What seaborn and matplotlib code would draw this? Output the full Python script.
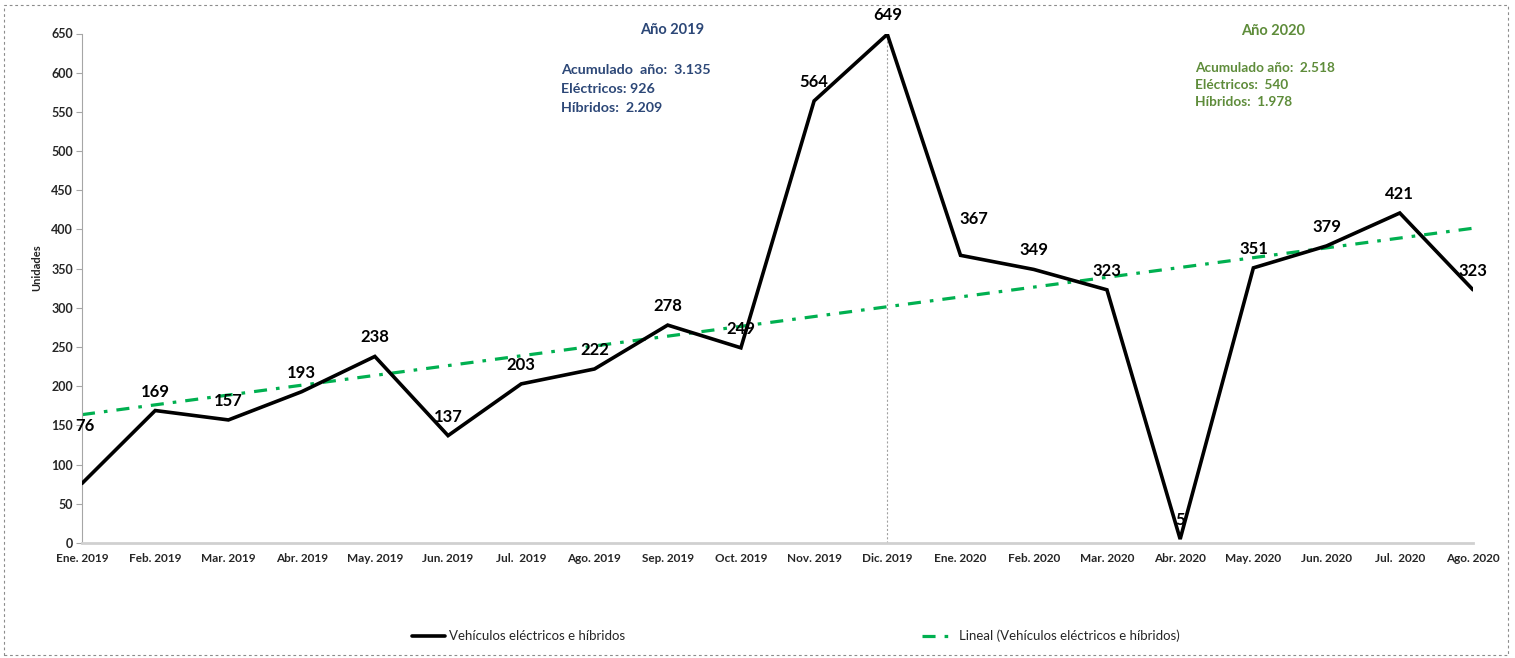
import numpy as np
import pandas as pd
import matplotlib
matplotlib.use("Agg")
import matplotlib.pyplot as plt
import seaborn as sns
from matplotlib.patches import Rectangle

# ---------------- data ----------------
months = ["Ene. 2019", "Feb. 2019", "Mar. 2019", "Abr. 2019", "May. 2019", "Jun. 2019",
          "Jul.  2019", "Ago. 2019", "Sep. 2019", "Oct. 2019", "Nov. 2019", "Dic. 2019",
          "Ene. 2020", "Feb. 2020", "Mar. 2020", "Abr. 2020", "May. 2020", "Jun. 2020",
          "Jul.  2020", "Ago. 2020"]
units = [76, 169, 157, 193, 238, 137, 203, 222, 278, 249, 564, 649,
         367, 349, 323, 5, 351, 379, 421, 323]
y_ticks = [0, 50, 100, 150, 200, 250, 300, 350, 400, 450, 500, 550, 600, 650]
series_name = "Vehículos eléctricos e híbridos"
trend_name = "Lineal (Vehículos eléctricos e híbridos)"
info_2019 = ["Acumulado  año:  3.135", "Eléctricos: 926", "Híbridos:  2.209"]
info_2020 = ["Acumulado año:  2.518", "Eléctricos:  540", "Híbridos:  1.978"]
title_2019 = "Año 2019"
title_2020 = "Año 2020"

df = pd.DataFrame({"idx": np.arange(len(units)), "mes": months, "unidades": units})

# ---------------- style ----------------
sns.set_theme(style="white")
plt.rcParams["font.family"] = ["Lato", "DejaVu Sans"]
plt.rcParams["lines.scale_dashes"] = False

W, H = 1515, 658
fig = plt.figure(figsize=(W / 100, H / 100), dpi=100)
fig.patch.set_facecolor("white")
ax = fig.add_axes([82 / W, 115 / H, (1473 - 82) / W, (624.5 - 115) / H])

blue_txt = "#2C4777"
green_txt = "#5E8C3A"
trend_col = "#00B050"

# trend line (linear fit, like Excel "Lineal")
sns.regplot(data=df, x="idx", y="unidades", ax=ax, scatter=False, ci=None,
            truncate=True, label=trend_name,
            line_kws=dict(color=trend_col, lw=2.3, dashes=(9.4, 6.5, 2.6, 6.5),
                          dash_capstyle="butt", zorder=2))

# main series
sns.lineplot(data=df, x="idx", y="unidades", ax=ax, color="black", lw=2.6,
             label=series_name, zorder=3)
for ln in ax.lines:
    ln.set_solid_joinstyle("miter")

# vertical dotted separator at Dic. 2019
ax.axvline(11, color="#A0A0A0", lw=0.8, ls=(0, (1.5, 1.5)), zorder=1)

# data labels
label_offsets = {0: (3, 57), 12: (13, 36)}
for i, v in enumerate(units):
    dx, dy = label_offsets.get(i, (0, 19))
    ax.annotate(str(v), (i, v), xytext=(dx, dy), textcoords="offset pixels",
                ha="center", va="center", fontsize=12, fontweight="bold",
                color="black", zorder=5)

# axes
ax.set_xlim(0, len(units) - 1)
ax.set_ylim(0, 650)
ax.set_yticks(y_ticks)
ax.set_yticklabels([str(t) for t in y_ticks], fontsize=9, fontweight="bold")
ax.set_xticks(np.arange(len(units)))
ax.set_xticklabels(months, fontsize=8.5, fontweight="bold")
ax.set_xticks(np.arange(0, len(units), 2), minor=True)
ax.tick_params(axis="x", which="major", length=0, pad=7)
ax.tick_params(axis="x", which="minor", length=4, width=0.8, color="#BFBFBF",
               direction="out", bottom=True)
ax.tick_params(axis="y", which="major", length=4, width=0.8, color="#A6A6A6",
               direction="out", left=True, pad=2.5)
ax.set_xlabel("")
ax.set_ylabel("")
for s in ["top", "right"]:
    ax.spines[s].set_visible(False)
ax.spines["left"].set_color("#A6A6A6")
ax.spines["left"].set_linewidth(0.8)
ax.spines["bottom"].set_color("#D0D0D0")
ax.spines["bottom"].set_linewidth(2.0)
ax.grid(False)

fig.text(37 / W, 1 - 268 / H, "Unidades", rotation=90, ha="center", va="center",
         fontsize=8, fontweight="bold", color="#222222")

# annotations for each year
fig.text(672 / W, 1 - 30 / H, title_2019, ha="center", va="center",
         fontsize=10.5, fontweight="bold", color=blue_txt)
for k, t in enumerate(info_2019):
    fig.text(561 / W, 1 - (70 + 19 * k) / H, t, ha="left", va="center",
             fontsize=10.3, fontweight="bold", color=blue_txt)
fig.text(1273 / W, 1 - 31 / H, title_2020, ha="center", va="center",
         fontsize=10.5, fontweight="bold", color=green_txt)
for k, t in enumerate(info_2020):
    fig.text(1195 / W, 1 - (68 + 17 * k) / H, t, ha="left", va="center",
             fontsize=9.8, fontweight="bold", color=green_txt)

# legend
handles, labels = ax.get_legend_handles_labels()
order = [labels.index(series_name), labels.index(trend_name)]
if ax.get_legend() is not None:
    ax.get_legend().remove()
fig.legend([handles[i] for i in order], [labels[i] for i in order],
           loc="center", bbox_to_anchor=(796 / W, 1 - 636 / H), ncol=2,
           frameon=False, fontsize=9.5, handlelength=2.5, handletextpad=0.3,
           columnspacing=22.5)

# dotted outer frame
fig.patches.append(Rectangle((4 / W, 3 / H), (1508 - 4) / W, (655 - 5) / H,
                             transform=fig.transFigure, fill=False,
                             edgecolor="#8C8C8C", lw=0.8, ls=(0, (2, 2))))

fig.savefig("out.png", dpi=100, facecolor="white")
